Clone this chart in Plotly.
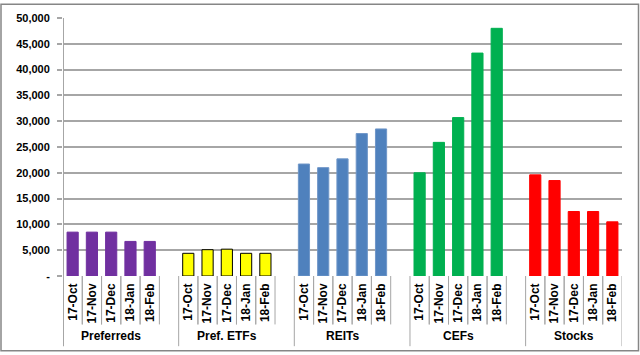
import plotly.graph_objects as go

groups = ["Preferreds", "Pref. ETFs", "REITs", "CEFs", "Stocks"]
months = ["17-Oct", "17-Nov", "17-Dec", "18-Jan", "18-Feb"]
preferreds = [8500, 8500, 8500, 6700, 6700]
pref_etfs = [4400, 5100, 5200, 4400, 4400]
reits = [21700, 21000, 22700, 27600, 28500]
cefs = [20000, 25900, 30700, 43200, 48000]
stocks = [19600, 18500, 12500, 12500, 10500]
series = [preferreds, pref_etfs, reits, cefs, stocks]
colors = ["#7030A0", "#FFFF00", "#4F81BD", "#00B050", "#FF0000"]
outlines = ["#7030A0", "#000000", "#6F96C8", "#00B050", "#FF0000"]
y_ticks = list(range(0, 50001, 5000))
y_ticktext = ["-"] + [f"{v:,}" for v in y_ticks[1:]]

# layout geometry (pixels)
W, H = 640, 355
L, R, T, B = 63, 622, 15, 276
pw, ph = R - L, B - T

def px2x(p):
    return (p - L) / pw

def py2y(p):
    return (B - p) / ph

fig = go.Figure()

# slot positions: 6 slots per group (last blank) except the last group
positions = []
tickvals, ticktext = [], []
group_bounds = [-0.5]
pos = 0
for gi, vals in enumerate(series):
    gp = []
    for mi, v in enumerate(vals):
        gp.append(pos)
        tickvals.append(pos)
        ticktext.append(months[mi])
        pos += 1
    positions.append(gp)
    if gi < len(series) - 1:
        pos += 1  # blank slot
    group_bounds.append(pos - 0.5)

for gi, vals in enumerate(series):
    fig.add_trace(go.Bar(
        x=positions[gi], y=vals, width=0.58,
        marker=dict(color=colors[gi], line=dict(color=outlines[gi], width=1)),
        name=groups[gi], showlegend=False,
    ))

shapes = []
line_col = "#A6A6A6"
# minor separators (between month labels)
for gi, gp in enumerate(positions):
    for p in gp:
        for xb in (p - 0.5, p + 0.5):
            if xb in group_bounds:
                continue
            shapes.append(dict(type="line", xref="x", yref="paper",
                               x0=xb, x1=xb, y0=0, y1=py2y(325),
                               line=dict(color=line_col, width=1)))
# group separators
for xb in group_bounds:
    shapes.append(dict(type="line", xref="x", yref="paper",
                       x0=xb, x1=xb, y0=0 if xb != -0.5 else 1, y1=py2y(347),
                       line=dict(color=line_col, width=2 if xb == -0.5 else 1)))
# outer frame
shapes.append(dict(type="rect", xref="paper", yref="paper",
                   x0=px2x(1), x1=px2x(638.5), y0=py2y(1), y1=py2y(351.5),
                   line=dict(color="#868686", width=1.5), fillcolor="rgba(0,0,0,0)"))

annotations = []
for gi, gp in enumerate(positions):
    annotations.append(dict(x=(gp[0] + gp[-1]) / 2, xref="x", y=py2y(337), yref="paper",
                            text=f"<b>{groups[gi]}</b>",
                            showarrow=False, xanchor="center", yanchor="middle",
                            font=dict(family="Liberation Sans, Arial", size=12, color="#000000")))

fig.update_layout(
    width=W, height=H,
    margin=dict(l=L, r=W - R, t=T, b=H - B),
    paper_bgcolor="white", plot_bgcolor="white",
    bargap=0.4,
    shapes=shapes, annotations=annotations,
    xaxis=dict(range=[-0.5, pos - 0.5], tickvals=tickvals, ticktext=[f"<b>{t}</b>" for t in ticktext],
               tickangle=-90, showgrid=False, zeroline=False, showline=False,
               ticks="", ticklabelstandoff=4,
               tickfont=dict(family="Liberation Sans, Arial", size=12, color="#000000"),
               fixedrange=True),
    yaxis=dict(range=[0, 50000], tickvals=y_ticks, ticktext=[f"<b>{t}</b>" for t in y_ticktext],
               showgrid=True, gridcolor="#A6A6A6", gridwidth=1.5, zeroline=False,
               showline=False, ticks="outside", ticklen=5, tickcolor="#A6A6A6", tickwidth=1.5,
               tickfont=dict(family="Liberation Sans, Arial", size=11, color="#000000"),
               ticklabelstandoff=5),
    font=dict(family="Liberation Sans, Arial"),
)

fig.write_html("out.html")
